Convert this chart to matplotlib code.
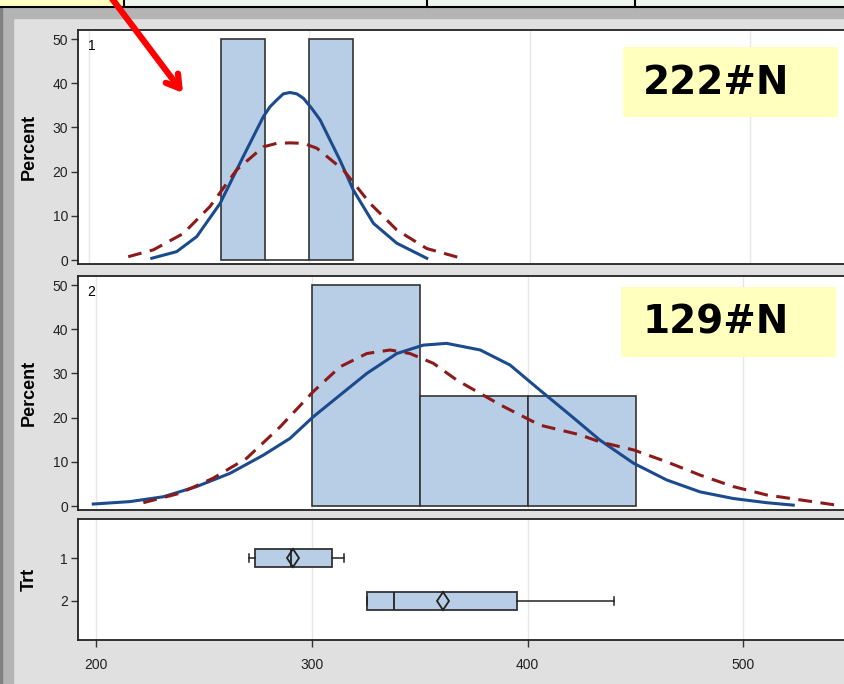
import matplotlib
matplotlib.use('Agg')
import matplotlib.pyplot as plt
from matplotlib.patches import Rectangle

# histogram data (percent)
p1_bins = [260, 280, 300]
p1_pct = [50, 0, 50]
p1_width = 20
p2_bins = [300, 350, 400]
p2_pct = [50, 25, 25]
p2_width = 50

# kernel density (solid) and normal (dashed) curves
p1_kde_x = [228.5, 239.8, 248.9, 259.5, 270.0, 279.1, 282.2, 285.2, 288.2, 291.2,
            294.3, 297.3, 301.1, 304.9, 313.9, 320.0, 329.1, 339.7, 353.3]
p1_kde_y = [0.4, 1.9, 5.3, 12.8, 23.4, 32.4, 34.7, 36.2, 37.6, 37.9,
            37.6, 36.6, 34.3, 31.7, 22.6, 15.8, 8.3, 3.8, 0.4]
p1_norm_x = [217.8, 229.2, 242.8, 254.9, 267.0, 279.1, 285.2, 291.2, 297.3, 303.4,
             315.4, 327.6, 339.7, 353.3, 367.6]
p1_norm_y = [0.75, 2.3, 6.0, 12.1, 20.4, 25.6, 26.4, 26.5, 26.4, 25.3,
             20.4, 12.8, 6.8, 2.6, 0.6]

p2_kde_x = [198.6, 215.6, 231.1, 246.5, 262.0, 277.4, 289.8, 300.6, 313.0, 325.4,
            339.3, 351.6, 362.4, 378.0, 391.8, 405.7, 419.6, 433.5, 449.0, 464.4,
            479.9, 495.3, 510.8, 523.1]
p2_kde_y = [0.45, 1.0, 2.1, 4.4, 7.4, 11.5, 15.3, 20.2, 25.1, 30.0,
            34.5, 36.4, 36.8, 35.3, 31.9, 26.2, 20.6, 14.9, 9.7, 5.9,
            3.2, 1.7, 0.75, 0.2]
p2_norm_x = [221.8, 238.8, 254.2, 269.7, 285.2, 300.6, 313.0, 325.4, 336.2, 345.4,
             356.2, 367.1, 387.2, 405.7, 424.3, 433.5, 449.0, 464.4, 479.9, 495.3,
             510.8, 526.2, 543.2]
p2_norm_y = [0.75, 2.9, 6.3, 10.8, 17.9, 25.9, 31.5, 34.5, 35.3, 34.5,
             32.3, 28.5, 22.9, 18.3, 16.1, 14.5, 12.7, 10.0, 7.0, 4.4,
             2.5, 1.4, 0.2]

# box plot statistics by Trt
trt = ['1', '2']
box_lo = [270.6, 325.4]
box_q1 = [273.6, 325.4]
box_med = [290.3, 338.0]
box_mean = [291.2, 360.6]
box_q3 = [309.4, 394.9]
box_hi = [314.8, 439.8]

labels = ['222#N', '129#N']

W, H = 844, 684
fill = '#b8cde6'
blue = '#1b4b8c'
red = '#8c1a1a'
tickfont = ['Liberation Sans Narrow', 'Liberation Sans']

fig = plt.figure(figsize=(W / 100, H / 100), dpi=100)
fig.patch.set_facecolor('#e0e0e0')


def px_axes(l, t, r, b, **kw):
    return fig.add_axes([l / W, 1 - b / H, (r - l) / W, (b - t) / H], **kw)


# screenshot background
bg = px_axes(0, 0, W, H, zorder=0)
bg.set_xlim(0, W)
bg.set_ylim(H, 0)
bg.axis('off')
bg.add_patch(Rectangle((0, 0), W, 18, color='#b4b4b4'))
bg.add_patch(Rectangle((0, 0), 13, H, color='#b4b4b4'))
bg.add_patch(Rectangle((0, 0), 2, H, color='#808080'))
bg.add_patch(Rectangle((0, 0), W, 7, facecolor='#eef5ee', edgecolor='none'))
bg.add_patch(Rectangle((0, 0), 124, 7, facecolor='#ffffc0', edgecolor='none'))
bg.plot([0, W], [6.5, 6.5], color='black', lw=1.5)
for xv in [124, 427, 635]:
    bg.plot([xv, xv], [0, 7], color='black', lw=1.5)


def style(ax, ylab):
    ax.set_facecolor('white')
    for s in ax.spines.values():
        s.set_linewidth(1.3)
        s.set_color('#222222')
    ax.tick_params(axis='y', length=5, width=1, color='#333333', pad=2, labelsize=10)
    for t in ax.get_yticklabels():
        t.set_family(tickfont)
        t.set_color('#222222')
    ax.set_ylabel(ylab, fontsize=13, fontweight='bold', family='Liberation Sans')
    ax.yaxis.set_label_coords(-40 / 772, 0.5)
    for g in [200, 300, 400, 500]:
        ax.axvline(g, color='#e6e6e6', lw=1, zorder=0)


dash = (0, (4.5, 2.8))

# panel 1
ax1 = px_axes(77.7, 30, 850, 264, zorder=1)
ax1.bar(p1_bins, p1_pct, width=p1_width, align='edge', color=fill,
        edgecolor='#333333', linewidth=1.2, zorder=2)
ax1.plot(p1_kde_x, p1_kde_y, color=blue, lw=2.2, zorder=3)
ax1.plot(p1_norm_x, p1_norm_y, color=red, lw=2.2, linestyle=dash, zorder=3)
ax1.set_xlim(194.87, 545.4)
ax1.set_ylim(-0.9, 52.04)
ax1.set_yticks([0, 10, 20, 30, 40, 50])
ax1.set_xticks([])
style(ax1, 'Percent')
ax1.text(0.013, 0.93, '1', transform=ax1.transAxes, fontsize=10, family=tickfont, va='center')

# panel 2
ax2 = px_axes(77.7, 276, 850, 510, zorder=1)
ax2.bar(p2_bins, p2_pct, width=p2_width, align='edge', color=fill,
        edgecolor='#333333', linewidth=1.2, zorder=2)
ax2.plot(p2_kde_x, p2_kde_y, color=blue, lw=2.2, zorder=3)
ax2.plot(p2_norm_x, p2_norm_y, color=red, lw=2.2, linestyle=dash, zorder=3)
ax2.set_xlim(191.38, 549.4)
ax2.set_ylim(-0.9, 52.04)
ax2.set_yticks([0, 10, 20, 30, 40, 50])
ax2.set_xticks([])
style(ax2, 'Percent')
ax2.text(0.013, 0.93, '2', transform=ax2.transAxes, fontsize=10, family=tickfont, va='center')

# panel 3 - box plots
ax3 = px_axes(77.7, 519, 850, 640, zorder=1)
stats = []
for i in range(len(trt)):
    stats.append(dict(label=trt[i], whislo=box_lo[i], q1=box_q1[i], med=box_med[i],
                      mean=box_mean[i], q3=box_q3[i], whishi=box_hi[i], fliers=[]))
ax3.bxp(stats, positions=[1, 2], orientation='horizontal', widths=0.44,
        patch_artist=True, showmeans=True, capwidths=0.17,
        boxprops=dict(facecolor=fill, edgecolor='#333333', linewidth=1.3),
        medianprops=dict(color='#222222', linewidth=1.3),
        whiskerprops=dict(color='#222222', linewidth=1.1),
        capprops=dict(color='#222222', linewidth=1.1),
        meanprops=dict(marker='d', markersize=9.5, markerfacecolor='none',
                       markeredgecolor='#222222', markeredgewidth=1.3))
ax3.set_xlim(191.38, 549.4)
ax3.set_ylim(2.907, 0.093)
ax3.set_yticks([1, 2])
ax3.set_yticklabels(trt)
ax3.set_xticks([200, 300, 400, 500])
ax3.tick_params(axis='x', length=5, width=1, color='#333333', pad=8, labelsize=10)
for t in ax3.get_xticklabels():
    t.set_family(tickfont)
    t.set_color('#222222')
style(ax3, 'Trt')

# overlay: annotation boxes and arrow
ov = px_axes(0, 0, W, H, zorder=10)
ov.set_xlim(0, W)
ov.set_ylim(H, 0)
ov.axis('off')
ov.patch.set_alpha(0)
for (x0, y0, x1, y1), lab in zip([(623, 47, 838, 117), (621, 287, 836, 357)], labels):
    ov.add_patch(Rectangle((x0, y0), x1 - x0, y1 - y0, facecolor='#ffffbe', edgecolor='none'))
    ov.text(643, (y0 + y1) / 2 + 1, lab, fontsize=28, fontweight='bold',
            family='DejaVu Sans', va='center', ha='left', color='black')
ov.annotate('', xy=(183, 93), xytext=(110, -4),
            arrowprops=dict(arrowstyle='->,head_length=0.9,head_width=0.55',
                            color='#ff0000', lw=4.5, shrinkA=0, shrinkB=0))

fig.savefig('out.png', dpi=100, facecolor=fig.get_facecolor())
